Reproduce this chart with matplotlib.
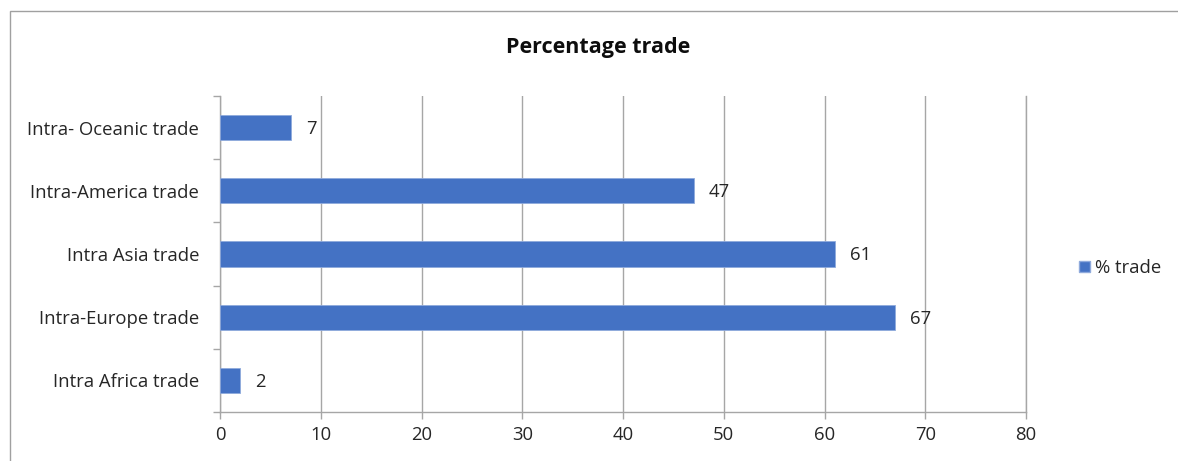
import matplotlib.pyplot as plt
from matplotlib.patches import Rectangle, Patch
from matplotlib.ticker import FixedLocator

# share of trade staying inside each region, in percent
regions = ['Intra Africa trade', 'Intra-Europe trade', 'Intra Asia trade',
           'Intra-America trade', 'Intra- Oceanic trade']
pct_trade = [2, 67, 61, 47, 7]
xticks = [0, 10, 20, 30, 40, 50, 60, 70, 80]

plt.rcParams['font.family'] = ['Open Sans', 'DejaVu Sans']
blue = '#4472C4'
grey = '#A6A6A6'
fs = 13.3

fig = plt.figure(figsize=(11.78, 4.61), dpi=100)
# chart border, runs off the right and bottom edges
fig.patches.append(Rectangle((10 / 1178, -0.1), 1.2, 1 - 11 / 461 + 0.1,
                             transform=fig.transFigure, fill=False,
                             edgecolor='#A0A0A0', linewidth=1.0))

ax = fig.add_axes([220 / 1178, 1 - 412 / 461, 806 / 1178, 316 / 461])
ypos = list(range(len(regions)))
bars = ax.barh(ypos, pct_trade, height=0.4, color=blue,
               edgecolor='#8FAADC', linewidth=0.6, zorder=3, label='% trade')

for y, v in zip(ypos, pct_trade):
    ax.annotate(str(v), (v, y), xytext=(11, -1), textcoords='offset points',
                va='center', ha='left', fontsize=fs, color='#262626')

ax.set_xlim(0, 80)
ax.set_ylim(-0.5, len(regions) - 0.5)
ax.set_xticks(xticks)
ax.set_yticks(ypos)
ax.set_yticklabels(regions)
ax.yaxis.set_minor_locator(FixedLocator([i - 0.5 for i in range(len(regions) + 1)]))
ax.tick_params(axis='y', which='major', length=0, pad=15, labelsize=fs,
               labelcolor='#262626')
ax.tick_params(axis='y', which='minor', length=5, color=grey, width=1)
ax.tick_params(axis='x', length=5, color=grey, width=1, pad=5,
               labelsize=fs, labelcolor='#262626')

ax.grid(axis='x', color=grey, linewidth=1, zorder=0)
ax.axvline(80, color=grey, linewidth=1, zorder=0, clip_on=False)
for side in ['top', 'right']:
    ax.spines[side].set_visible(False)
for side in ['left', 'bottom']:
    ax.spines[side].set_color(grey)
    ax.spines[side].set_linewidth(1)

fig.text(598 / 1178, 1 - 48 / 461, 'Percentage trade', ha='center', va='center',
         fontsize=15.5, fontweight='bold', color='#0D0D0D')

fig.legend(handles=[Patch(facecolor=blue, edgecolor='#8FAADC', label='% trade')],
           loc='center left', bbox_to_anchor=(1062 / 1178, 1 - 268 / 461),
           frameon=False, fontsize=fs, handlelength=0.6, handleheight=0.6,
           handletextpad=0.3, labelcolor='#262626')

fig.savefig('out.png', dpi=100)
